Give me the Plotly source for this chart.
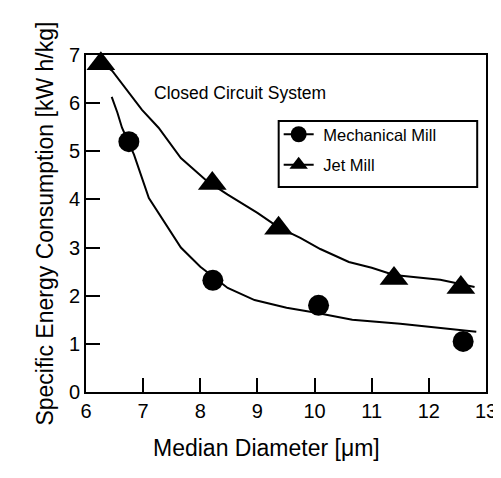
import plotly.graph_objects as go

# Measured data points
mech_x = [6.75, 8.22, 10.07, 12.60]
mech_y = [5.20, 2.32, 1.80, 1.05]
jet_x = [6.26, 8.21, 9.37, 11.39, 12.56]
jet_y = [6.82, 4.33, 3.40, 2.36, 2.17]

# Fitted curves
mech_curve_x = [6.45, 6.55, 6.63, 6.84, 7.10, 7.46, 7.66, 8.00, 8.48, 8.95, 9.51, 10.00, 10.66, 11.50, 12.20, 12.83]
mech_curve_y = [6.13, 5.80, 5.49, 4.93, 4.03, 3.35, 3.00, 2.60, 2.16, 1.91, 1.75, 1.65, 1.50, 1.42, 1.33, 1.25]
jet_curve_x = [6.26, 6.46, 6.98, 7.27, 7.66, 8.12, 8.48, 9.00, 9.37, 9.75, 10.10, 10.60, 11.00, 11.39, 12.20, 12.80]
jet_curve_y = [6.85, 6.67, 5.86, 5.49, 4.86, 4.38, 4.10, 3.72, 3.42, 3.20, 2.97, 2.70, 2.58, 2.43, 2.33, 2.18]

x_ticks = [6, 7, 8, 9, 10, 11, 12, 13]
y_ticks = [0, 1, 2, 3, 4, 5, 6, 7]

FONT = "Liberation Sans, Arial, sans-serif"

fig = go.Figure()

fig.add_trace(go.Scatter(x=mech_curve_x, y=mech_curve_y, mode="lines",
                         line=dict(color="black", width=2), showlegend=False, hoverinfo="skip"))
fig.add_trace(go.Scatter(x=jet_curve_x, y=jet_curve_y, mode="lines",
                         line=dict(color="black", width=2), showlegend=False, hoverinfo="skip"))
fig.add_trace(go.Scatter(x=mech_x, y=mech_y, mode="markers", cliponaxis=False,
                         marker=dict(symbol="circle", size=21, color="black"), showlegend=False))
fig.add_trace(go.Scatter(x=jet_x, y=jet_y, mode="markers", cliponaxis=False,
                         marker=dict(symbol="triangle-up", size=25, color="black"), showlegend=False))

# legend-only entries
fig.add_trace(go.Scatter(x=[None], y=[None], mode="lines+markers", name="\u00a0Mechanical Mill",
                         legendgroup="a",
                         line=dict(color="black", width=2),
                         marker=dict(symbol="circle", size=16, color="black")))
fig.add_trace(go.Scatter(x=[None], y=[None], mode="lines+markers", name="\u00a0Jet Mill",
                         legendgroup="b",
                         line=dict(color="black", width=2),
                         marker=dict(symbol="triangle-up", size=21, color="black")))

axis_common = dict(showgrid=False, zeroline=False, showline=True, linecolor="black", linewidth=2,
                   mirror=True, ticks="inside", ticklen=14, tickwidth=2, tickcolor="black",
                   tickfont=dict(family=FONT, size=20, color="black"))

fig.update_xaxes(range=[6, 13], tickvals=x_ticks, **axis_common)
fig.update_yaxes(range=[0, 7], tickvals=y_ticks, **axis_common)

fig.update_layout(
    width=501, height=478,
    margin=dict(l=78, r=14, t=47, b=94),
    paper_bgcolor="white", plot_bgcolor="white",
    font=dict(family=FONT, color="black"),
    legend=dict(x=0.4817, y=(384 - 109) / 337, xanchor="left", yanchor="top",
                borderwidth=0, bgcolor="rgba(0,0,0,0)",
                traceorder="grouped", tracegroupgap=6,
                font=dict(family=FONT, size=16.5, color="black"),
                itemwidth=30),
    shapes=[
        dict(type="rect", xref="paper", yref="paper",
             x0=0.4817, x1=0.9780, y0=(384 - 179) / 337, y1=(384 - 113) / 337,
             line=dict(color="black", width=2), fillcolor="rgba(0,0,0,0)", layer="below"),
    ],
    annotations=[
        dict(text="Closed Circuit System", x=0.386, y=0.923, xref="paper", yref="paper",
             showarrow=False, font=dict(family=FONT, size=17.5, color="black")),
        dict(text="Median Diameter [\u03bcm]", x=0.452, y=(384 - 455) / 337, xref="paper", yref="paper",
             showarrow=False, font=dict(family=FONT, size=23, color="black")),
        dict(text="Specific Energy Consumption [kW h/kg]", x=-0.139, y=0.501, xref="paper", yref="paper",
             showarrow=False, textangle=-90, font=dict(family=FONT, size=23, color="black")),
    ],
)

fig.write_html("out.html")
